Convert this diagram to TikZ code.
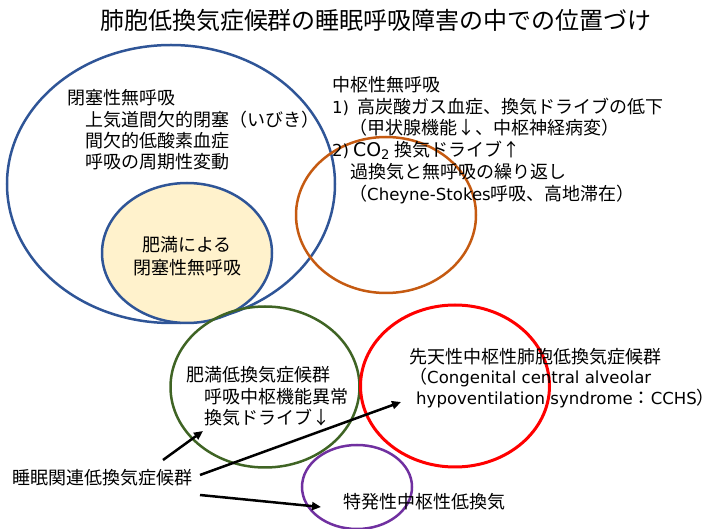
\documentclass[tikz,border=0pt]{standalone}
\usepackage{fontspec}
\setmainfont{Noto Sans CJK JP}
\newfontfamily\lat[Scale=0.92]{DejaVu Sans}
\usetikzlibrary{shapes.geometric,arrows.meta}
\definecolor{cblue}{HTML}{2F5597}
\definecolor{cyellow}{HTML}{FFF2CC}
\definecolor{corange}{HTML}{C55A11}
\definecolor{cgreen}{HTML}{3F6424}
\definecolor{cred}{HTML}{FF0000}
\definecolor{cpurple}{HTML}{7030A0}
\newcommand{\fw}[1]{\makebox[1em][c]{#1}}
\tikzset{
  ell/.style={ellipse, inner sep=0pt, line width=2.5pt},
  txt/.style={anchor=west, inner sep=0pt, font=\fontsize{18}{21}\selectfont},
  ctxt/.style={anchor=center, inner sep=0pt, font=\fontsize{18}{21}\selectfont},
  arr/.style={line width=2.5pt, -{Triangle[length=9pt,width=8pt]}}
}
\begin{document}
\begin{tikzpicture}[x=1pt,y=-1pt]
\useasboundingbox (0,0) rectangle (721,529);
% ellipses
\node[ell, draw=cblue, minimum width=328pt, minimum height=278pt] (obs) at (171,184) {};
\node[ell, draw=cblue, fill=cyellow, minimum width=170pt, minimum height=140pt] (obese) at (187,253) {};
\node[ell, draw=corange, minimum width=180pt, minimum height=156pt] (central) at (386,215) {};
\node[ell, draw=cgreen, minimum width=189pt, minimum height=161pt] (ohs) at (265,387) {};
\node[ell, draw=cred, line width=3pt, minimum width=189pt, minimum height=162pt] (cchs) at (455,386) {};
\node[ell, draw=cpurple, minimum width=110pt, minimum height=84pt] (idio) at (357,487) {};
% title
\node[anchor=center, inner sep=0pt, font=\fontsize{24}{27}\selectfont] (title) at (376,20) {肺胞低換気症候群の睡眠呼吸障害の中での位置づけ};
% obstructive text
\node[txt] (o1) at (67,98) {閉塞性無呼吸};
\node[txt] (o2) at (85,120) {上気道間欠的閉塞（いびき）};
\node[txt] (o3) at (85,141) {間欠的低酸素血症};
\node[txt] (o4) at (85,162) {呼吸の周期性変動};
\node[ctxt] (y1) at (187,245) {肥満による};
\node[ctxt] (y2) at (187,268) {閉塞性無呼吸};
% central text
\node[txt] (c1) at (332,85) {中枢性無呼吸};
\node[txt] (c2) at (332,107) {\makebox[25pt][l]{\lat 1)}高炭酸ガス血症、換気ドライブの低下};
\node[txt] (c3) at (349,128) {（甲状腺機能\fw{↓}、中枢神経病変）};
\node[txt] (c4) at (332,150) {\makebox[62pt][l]{\lat 2)\hspace{4pt}{\fontsize{20.5}{21}\selectfont CO\textsubscript{2}}}換気ドライブ\fw{↑}};
\node[txt] (c5) at (350,172) {過換気と無呼吸の繰り返し};
\node[txt] (c6) at (349,195) {（{\lat Cheyne-Stokes}呼吸、高地滞在）};
% OHS text
\node[txt] (g1) at (186,375) {肥満低換気症候群};
\node[txt] (g2) at (204,397) {呼吸中枢機能異常};
\node[txt] (g3) at (204,418) {換気ドライブ\fw{↓}};
% CCHS text
\node[txt] (r1) at (409,357) {先天性中枢性肺胞低換気症候群};
\node[txt] (r2) at (409,378) {（{\lat Congenital central alveolar}};
\node[txt] (r3) at (416,399) {{\lat hypoventilation syndrome}：{\lat CCHS}）};
% idiopathic
\node[txt] (p1) at (343,502) {特発性中枢性低換気};
% sleep-related
\node[txt] (s1) at (12,478) {睡眠関連低換気症候群};
% arrows
\coordinate (a1s) at (163,460);
\coordinate (a1e) at (203,431);
\coordinate (a2s) at (200,475);
\coordinate (a2e) at (401,402);
\coordinate (a3s) at (200,495);
\coordinate (a3e) at (321,507);
\draw[arr] (a1s) -- (a1e);
\draw[arr] (a2s) -- (a2e);
\draw[arr] (a3s) -- (a3e);
\end{tikzpicture}
\end{document}
